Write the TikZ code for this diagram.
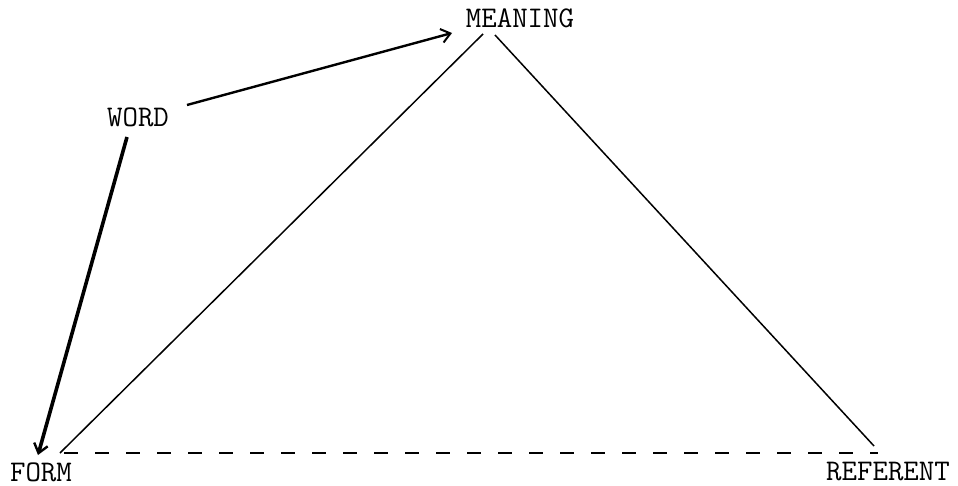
\documentclass[tikz,border=0pt]{standalone}
\usetikzlibrary{arrows.meta}
\begin{document}
\begin{tikzpicture}[x=1pt,y=-1pt,
  label/.style={font=\ttfamily\fontsize{30}{30}\selectfont, inner sep=0pt, anchor=base},
  side/.style={line width=1.5pt},
  base/.style={line width=1.6pt, dash pattern=on 14pt off 17pt},
  pointer/.style={line width=2.4pt, -{Straight Barb[length=9pt,width=14pt,line width=2pt]}},
  heavy/.style={line width=3.6pt, -{Straight Barb[length=9pt,width=14pt,line width=2.4pt]}}]
\useasboundingbox (0,0) rectangle (958,486);
% labels
\node[label] (meaning) at (520,28) {MEANING};
\node[label] (word) at (138,127) {WORD};
\node[label] (form) at (41,481) {FORM};
\node[label] (referent) at (888,480) {REFERENT};
% corners of the triangle
\coordinate (apexL) at (483,34);
\coordinate (apexR) at (495,35);
\coordinate (cornerL) at (60,453);
\coordinate (cornerR) at (874,446);
\coordinate (dashL) at (64,453);
\coordinate (dashR) at (878,453);
% ends of the arrows
\coordinate (wordOut) at (187,105);
\coordinate (meaningIn) at (452,33);
\coordinate (wordDown) at (127,137);
\coordinate (formIn) at (38,455);
% triangle
\draw[side] (apexL) -- (cornerL);
\draw[side] (apexR) -- (cornerR);
\draw[base] (dashL) -- (dashR);
% arrows from WORD
\draw[pointer] (wordOut) -- (meaningIn);
\draw[heavy] (wordDown) -- (formIn);
\end{tikzpicture}
\end{document}
